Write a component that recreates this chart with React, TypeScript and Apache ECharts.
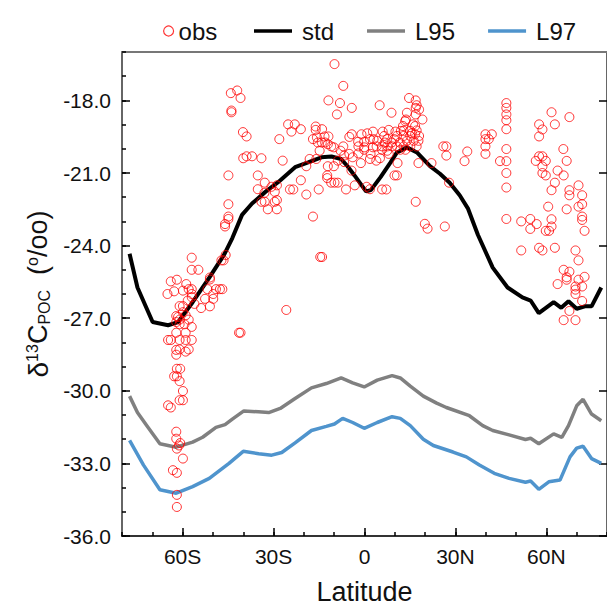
import React, { useEffect, useRef } from "react";
import * as echarts from "echarts";

// ---- data ----
const stdLat = [-77.5, -74.9, -69.9, -64.8, -61.5, -56.7, -51.2, -46.3, -43.6, -40.4, -37.1, -32.7, -28.4, -22.9, -18.6, -14.2, -10.9, -7.7, -5.6, -3.3, 0.5, 2.1, 5.3, 8.6, 10.7, 14.0, 17.3, 21.6, 24.9, 28.1, 31.4, 34.1, 37.4, 42.3, 47.2, 52.1, 54.8, 57.5, 62.4, 64.9, 67.3, 70.0, 72.7, 74.9, 78.1];
const stdVal = [-24.34, -25.73, -27.16, -27.29, -27.16, -26.34, -25.32, -24.37, -23.69, -22.73, -22.26, -21.78, -21.37, -20.76, -20.56, -20.35, -20.32, -20.42, -20.72, -21.1, -21.76, -21.71, -21.17, -20.56, -20.15, -19.94, -20.15, -20.72, -21.03, -21.4, -21.92, -22.46, -23.55, -24.91, -25.73, -26.14, -26.27, -26.79, -26.34, -26.57, -26.3, -26.61, -26.51, -26.51, -25.73];

const l95Lat = [-77.5, -74.9, -71.8, -67.5, -62.1, -56.7, -53.4, -49.0, -46.0, -43.6, -39.8, -35.0, -31.6, -27.8, -22.9, -17.5, -12.6, -7.7, -3.9, -0.1, 4.2, 9.1, 11.8, 15.1, 19.4, 23.8, 27.0, 34.6, 39.0, 42.3, 47.7, 53.1, 54.8, 57.5, 62.4, 65.1, 67.3, 70.0, 72.1, 74.9, 78.1];
const l95Val = [-30.22, -30.9, -31.44, -32.19, -32.33, -32.12, -31.92, -31.51, -31.4, -31.17, -30.83, -30.87, -30.9, -30.73, -30.32, -29.88, -29.7, -29.47, -29.67, -29.84, -29.56, -29.37, -29.47, -29.81, -30.22, -30.51, -30.69, -31.03, -31.44, -31.64, -31.82, -32.01, -31.96, -32.19, -31.78, -31.92, -31.44, -30.62, -30.35, -30.96, -31.24];

const l97Lat = [-77.5, -72.9, -67.5, -62.1, -56.7, -51.2, -44.7, -40.0, -34.9, -30.6, -27.3, -22.9, -17.5, -12.6, -9.9, -7.2, -3.9, -0.1, 4.2, 9.1, 11.8, 15.1, 19.4, 22.7, 29.2, 33.6, 37.9, 42.8, 47.7, 53.1, 54.8, 57.5, 60.8, 64.5, 67.8, 70.0, 72.1, 74.9, 78.1];
const l97Val = [-32.05, -33.07, -34.09, -34.23, -33.96, -33.62, -33.0, -32.5, -32.6, -32.66, -32.55, -32.15, -31.64, -31.47, -31.37, -31.14, -31.31, -31.55, -31.31, -31.07, -31.14, -31.44, -32.0, -32.26, -32.53, -32.73, -33.07, -33.41, -33.62, -33.78, -33.73, -34.07, -33.76, -33.69, -32.73, -32.37, -32.29, -32.8, -33.0];

const obsPoints: [number, number][] = [
  [-44.1, -17.7], [-42.0, -17.59], [-40.9, -17.9], [-43.9, -18.42], [-43.9, -18.49], [-40.1, -19.31], [-38.9, -19.49], [-40.0, -20.39], [-38.9, -20.31], [-37.1, -20.31], [-44.9, -21.1], [-35.2, -21.1], [-35.2, -21.67], [-44.9, -22.29], [-44.9, -22.8], [-44.9, -22.9], [-46.0, -23.11], [-46.0, -23.21],
  [-57.0, -24.5], [-57.0, -25.0], [-54.8, -25.0], [-63.9, -25.48], [-61.9, -25.41], [-62.8, -25.89], [-65.0, -26.0], [-58.8, -25.59], [-58.0, -25.8], [-57.0, -25.8], [-57.0, -26.0], [-57.0, -26.13], [-59.9, -25.86], [-61.0, -26.5], [-59.9, -26.5], [-58.3, -26.27], [-56.1, -26.41], [-53.9, -26.58], [-52.6, -26.2], [-51.0, -25.32], [-51.0, -25.4], [-51.8, -25.8], [-49.9, -26.0], [-49.0, -25.8], [-47.7, -25.8], [-46.9, -25.8], [-51.0, -26.51], [-49.9, -26.2], [-46.5, -24.61], [-45.8, -24.39], [-47.2, -24.61], [-62.1, -26.91], [-61.5, -26.95], [-61.0, -27.06], [-62.1, -27.16], [-61.0, -27.25], [-59.4, -27.25], [-57.0, -27.36], [-59.0, -26.88], [-58.0, -27.06], [-59.0, -27.6], [-62.1, -27.6], [-61.0, -27.9], [-59.0, -27.9], [-57.0, -27.9], [-63.9, -27.9], [-64.8, -27.9], [-62.1, -28.31], [-61.0, -28.29], [-58.0, -28.29], [-59.0, -28.38], [-62.1, -28.51], [-61.9, -29.09], [-60.8, -29.09], [-62.8, -29.4], [-61.9, -29.4], [-61.0, -29.6], [-59.9, -30.01], [-61.0, -30.39], [-59.9, -30.39], [-64.8, -30.6], [-63.9, -30.69], [-62.1, -31.69], [-41.4, -27.6], [-40.9, -27.6], [-59.9, -26.75],
  [-62.1, -31.98], [-60.8, -32.16], [-61.2, -32.26], [-61.9, -32.39], [-59.9, -32.8], [-63.2, -33.28], [-61.9, -33.39], [-61.9, -34.3], [-61.9, -34.8],
  [-9.9, -16.5], [-7.0, -17.4], [-11.9, -18.0], [-8.1, -18.11], [-4.2, -18.31], [5.0, -18.2], [8.9, -18.51], [-9.1, -18.58], [14.7, -17.9], [16.9, -18.0], [17.2, -18.2], [18.0, -18.38], [14.0, -18.51], [16.9, -18.58], [19.1, -18.79], [13.4, -18.86], [12.7, -19.06], [16.7, -19.06], [17.2, -19.24], [15.6, -19.36], [-25.2, -18.99], [-23.0, -18.99], [-24.1, -19.29], [-21.0, -19.19], [-28.1, -19.6], [-16.1, -19.08], [-16.1, -19.22], [-14.0, -19.19], [-17.0, -19.6], [-15.7, -19.53], [-13.2, -19.49], [-11.9, -19.49], [-15.4, -19.74], [-14.1, -19.74], [-13.0, -19.74], [-12.1, -19.81], [-11.0, -19.9], [-10.1, -19.94], [-7.0, -19.9], [-7.9, -20.08], [-5.0, -19.51], [-4.2, -19.4], [-1.0, -19.4], [0.9, -19.36], [2.8, -19.29], [6.0, -19.29], [8.0, -19.22], [10.2, -19.29], [12.0, -19.26], [-2.1, -19.71], [-0.1, -19.71], [1.8, -19.6], [4.2, -19.67], [-2.0, -19.9], [-0.1, -19.94], [2.8, -19.94], [5.8, -19.9], [7.5, -19.9], [9.1, -19.9], [10.7, -19.9], [12.9, -19.9], [15.1, -19.9], [17.2, -19.9], [14.0, -19.67], [16.2, -19.67], [17.8, -19.67], [10.7, -19.47], [12.9, -19.47], [15.1, -19.47], [5.8, -20.04], [7.5, -20.08], [8.0, -20.21], [-5.0, -20.21], [-6.7, -20.28], [-3.9, -20.35], [-2.0, -20.19], [-0.1, -20.04], [2.0, -20.21], [3.9, -20.49], [5.1, -20.39], [1.8, -20.42], [-1.2, -20.59], [-4.3, -20.9], [-6.7, -20.55], [-8.8, -20.49], [-14.8, -20.08], [-15.9, -20.42], [-18.1, -20.42], [-19.2, -20.72], [-12.1, -20.72], [-10.1, -20.72], [-12.3, -21.1], [-12.3, -21.21], [-11.0, -21.4], [-9.9, -21.4], [-8.8, -21.4], [-3.2, -21.51], [-6.1, -21.68], [0.7, -21.57], [1.8, -21.67], [5.8, -21.68], [7.2, -21.68], [9.9, -21.1], [10.9, -20.59], [17.8, -20.59], [22.1, -20.59], [26.0, -19.9], [27.0, -20.28], [16.9, -22.19], [19.9, -23.1], [20.8, -23.3], [26.5, -23.21], [-34.0, -20.39], [-27.0, -20.49], [-32.9, -21.4], [-30.7, -21.57], [-28.9, -21.51], [-33.0, -21.82], [-29.6, -21.78], [-34.0, -22.19], [-32.9, -22.19], [-29.6, -22.19], [-28.9, -22.12], [-31.9, -22.5], [-28.9, -22.5], [-24.6, -21.68], [-23.5, -21.68], [-21.0, -21.3], [-19.2, -21.89], [-15.1, -21.68], [-17.0, -22.8], [-14.6, -24.47], [-14.0, -24.47], [-25.8, -26.66],
  [16.9, -18.31], [13.7, -18.79], [16.0, -18.99], [12.9, -19.26], [15.1, -19.26], [16.7, -19.4], [18.0, -19.47], [27.0, -19.9], [33.9, -20.11], [33.0, -20.51], [10.7, -21.1], [27.9, -21.4], [39.9, -19.4], [39.9, -19.6], [41.0, -19.6], [42.0, -19.4], [39.9, -19.9], [39.9, -20.21], [46.8, -18.11], [46.8, -18.31], [46.8, -18.58], [46.8, -18.82], [46.8, -19.19], [46.8, -20.01], [46.8, -20.51], [44.7, -20.51], [46.8, -21.0], [46.8, -21.6], [46.8, -22.9], [51.7, -23.0], [54.7, -22.9], [54.7, -23.31], [56.8, -23.11], [59.8, -23.39], [60.9, -23.39], [61.7, -23.21], [61.7, -22.91], [60.6, -22.39], [61.7, -21.71], [62.8, -21.4], [63.7, -20.9], [65.7, -21.1], [66.7, -20.5], [65.6, -20.01], [62.8, -18.99], [61.7, -18.49], [67.6, -18.69], [57.6, -18.99], [58.7, -19.2], [57.6, -19.49], [57.6, -20.31], [58.7, -20.31], [56.5, -20.5], [59.8, -20.5], [58.7, -20.73], [58.7, -21.0], [59.8, -21.1], [70.6, -21.51], [67.6, -21.71], [67.6, -21.92], [71.8, -21.92], [71.8, -22.29], [70.6, -22.39], [66.7, -22.5], [71.8, -22.8], [71.8, -22.94], [72.6, -23.39],
  [51.7, -24.2], [57.6, -24.09], [58.7, -24.2], [62.8, -24.09], [69.6, -24.2], [70.6, -24.61], [65.7, -25.0], [67.6, -25.08], [66.7, -25.31], [66.7, -25.41], [70.6, -25.41], [72.6, -25.29], [63.7, -25.59], [69.6, -25.69], [69.6, -25.82], [71.8, -25.69], [69.6, -26.0], [71.8, -26.29], [67.6, -26.7], [65.7, -27.08], [69.6, -27.08],
  [6.7, -19.74], [9.0, -19.74], [11.6, -19.74], [7.5, -19.6], [9.8, -19.6], [4.0, -19.9], [11.8, -20.04], [13.5, -20.04], [3.0, -19.6], [6.5, -19.47]
];

const xMajor = [-60, -30, 0, 30, 60];
const yMajor = [-36, -33, -30, -27, -24, -21, -18];

function latLabel(v: number): string {
  if (v === 0) return "0";
  return v < 0 ? `${-v}S` : `${v}N`;
}

export default function App() {
  const ref = useRef<HTMLDivElement>(null);
  useEffect(() => {
    if (!ref.current) return;
    const chart = echarts.init(ref.current, null, { renderer: "svg" });
    const font = "'Liberation Sans', Arial, Helvetica, sans-serif";
    const tickStyle = { color: "#000", width: 1.5 };
    const xCommon = { type: "value", min: -80, max: 80, interval: 10, splitLine: { show: false } };
    const yCommon = { type: "value", min: -36, max: -16, interval: 1, splitLine: { show: false } };
    chart.setOption({
      animation: false,
      textStyle: { fontFamily: font },
      grid: { left: 122, top: 52, width: 490, height: 490, show: false },
      legend: [
        {
          data: [{ name: "obs", icon: "circle", itemStyle: { color: "rgba(0,0,0,0)", borderColor: "#ff0000", borderWidth: 1.2 } }],
          left: 158, top: 14, itemWidth: 10, itemHeight: 10, selectedMode: false,
          textStyle: { fontSize: 24, color: "#111", fontFamily: font },
        },
        {
          data: [
            { name: "std", icon: "rect", itemStyle: { color: "#000", borderWidth: 0 } },
            { name: "L95", icon: "rect", itemStyle: { color: "#808080", borderWidth: 0 } },
            { name: "L97", icon: "rect", itemStyle: { color: "#4f94cd", borderWidth: 0 } },
          ],
          left: 249, top: 14, itemWidth: 38, itemHeight: 3.5, itemGap: 33, selectedMode: false,
          textStyle: { fontSize: 24, color: "#111", fontFamily: font, padding: [0, 0, 0, 5] },
        },
      ],
      xAxis: [
        {
          ...xCommon, position: "bottom",
          axisLine: { show: true, onZero: false, lineStyle: { color: "#333", width: 2 } },
          axisTick: { show: true, inside: true, length: 4, lineStyle: tickStyle },
          axisLabel: { show: false },
        },
        {
          ...xCommon, position: "bottom",
          axisLine: { show: false, onZero: false },
          axisTick: { show: true, inside: true, length: 8, customValues: xMajor, lineStyle: tickStyle },
          axisLabel: { show: true, customValues: xMajor, formatter: latLabel, fontSize: 21, color: "#111", margin: 10, fontFamily: font },
          name: "Latitude", nameLocation: "middle", nameGap: 42,
          nameTextStyle: { fontSize: 27, color: "#111", fontFamily: font },
        },
        {
          ...xCommon, position: "top",
          axisLine: { show: true, onZero: false, lineStyle: { color: "#777", width: 2 } },
          axisTick: { show: false }, axisLabel: { show: false },
        },
      ],
      yAxis: [
        {
          ...yCommon, position: "left",
          axisLine: { show: true, onZero: false, lineStyle: { color: "#666", width: 2 } },
          axisTick: { show: true, inside: true, length: 4, lineStyle: tickStyle },
          axisLabel: { show: false },
        },
        {
          ...yCommon, position: "left",
          axisLine: { show: false, onZero: false },
          axisTick: { show: true, inside: true, length: 8, customValues: yMajor, lineStyle: tickStyle },
          axisLabel: { show: true, customValues: yMajor, formatter: (v: number) => v.toFixed(1), fontSize: 21, color: "#111", margin: 11, fontFamily: font },
          name: "{d|δ}{sup|13}{c|C}{sub|POC}{p|  (}{sup|o}{p|/oo)}",
          nameLocation: "middle", nameRotate: 90, nameGap: 70,
          nameTextStyle: {
            color: "#111", fontFamily: font,
            rich: {
              d: { fontSize: 28, color: "#111", fontFamily: font },
              c: { fontSize: 27, color: "#111", fontFamily: font },
              p: { fontSize: 27, color: "#111", fontFamily: font },
              sup: { fontSize: 16, color: "#111", fontFamily: font, verticalAlign: "top" },
              sub: { fontSize: 16, color: "#111", fontFamily: font, verticalAlign: "bottom" },
            },
          },
        },
        {
          ...yCommon, position: "right",
          axisLine: { show: true, onZero: false, lineStyle: { color: "#666", width: 2 } },
          axisTick: { show: true, inside: true, length: 8, customValues: yMajor, lineStyle: tickStyle },
          axisLabel: { show: false },
        },
      ],
      series: [
        {
          name: "std", type: "line", xAxisIndex: 0, yAxisIndex: 0, symbol: "none", z: 2,
          lineStyle: { color: "#000", width: 4 }, itemStyle: { color: "#000" },
          data: stdLat.map((x, i) => [x, stdVal[i]]),
        },
        {
          name: "L95", type: "line", xAxisIndex: 0, yAxisIndex: 0, symbol: "none", z: 2,
          lineStyle: { color: "#808080", width: 3.5 }, itemStyle: { color: "#808080" },
          data: l95Lat.map((x, i) => [x, l95Val[i]]),
        },
        {
          name: "L97", type: "line", xAxisIndex: 0, yAxisIndex: 0, symbol: "none", z: 2,
          lineStyle: { color: "#4f94cd", width: 3.5 }, itemStyle: { color: "#4f94cd" },
          data: l97Lat.map((x, i) => [x, l97Val[i]]),
        },
        {
          name: "obs", type: "scatter", xAxisIndex: 0, yAxisIndex: 0, symbol: "circle", symbolSize: 9, z: 5,
          itemStyle: { color: "rgba(0,0,0,0)", borderColor: "#ff0000", borderWidth: 1 },
          data: obsPoints,
        },
      ],
    });
    return () => chart.dispose();
  }, []);
  return <div ref={ref} style={{ position: "absolute", left: 0, top: 0, width: 607, height: 610 }} />;
}
